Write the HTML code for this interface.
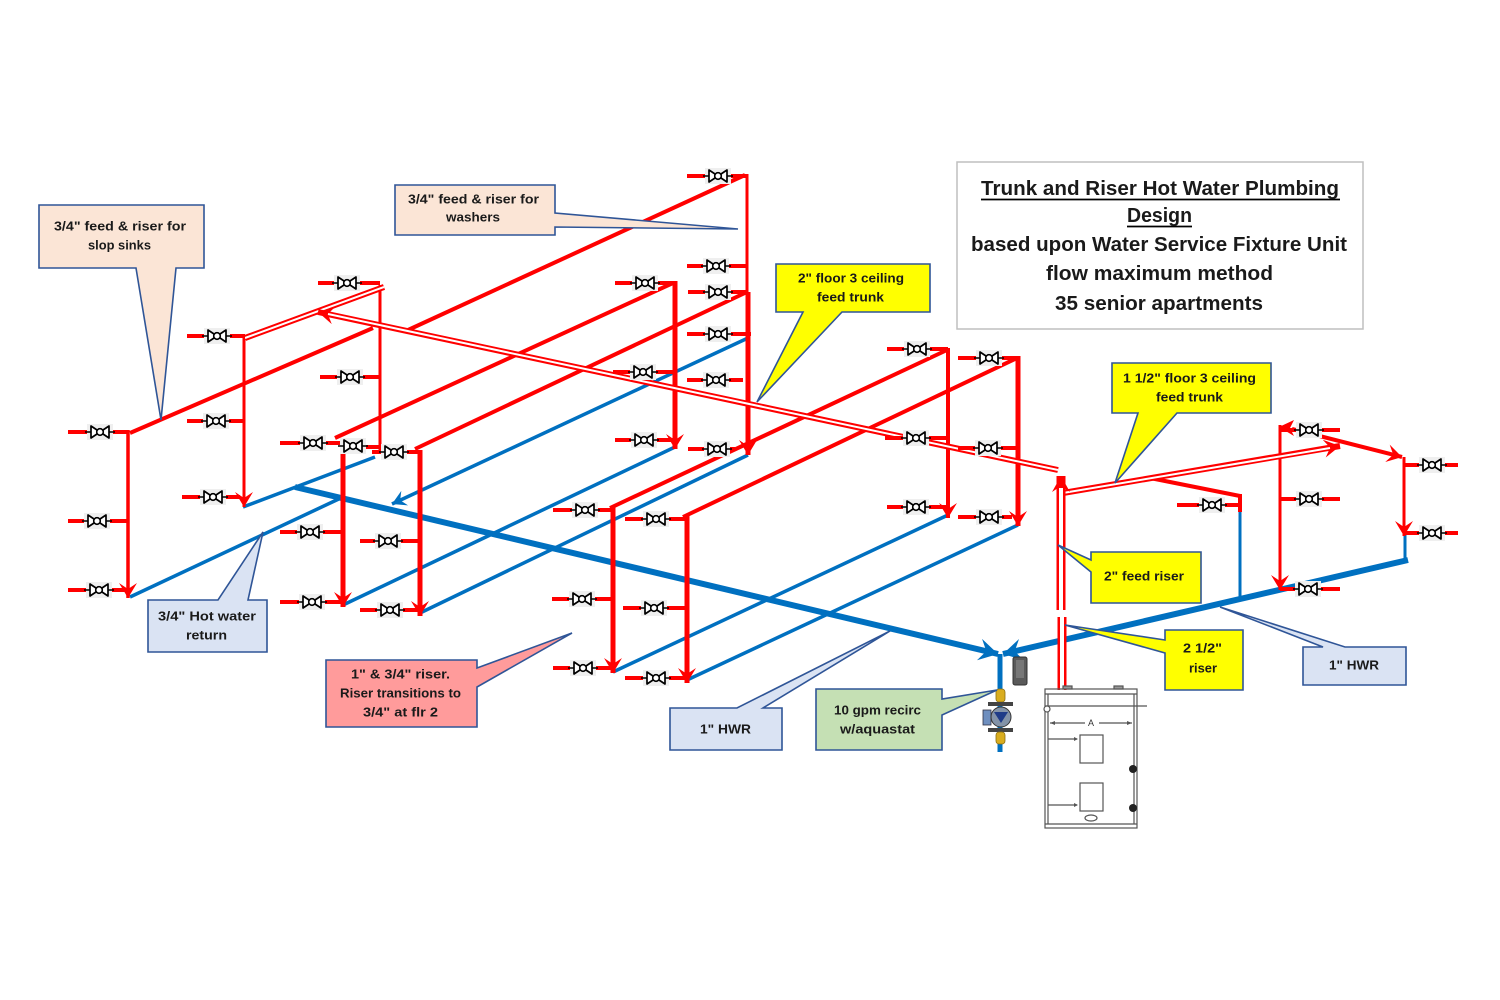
<!DOCTYPE html>
<html><head><meta charset="utf-8"><style>
html,body{margin:0;padding:0;background:#fff;}
svg{display:block}
text{font-family:"Liberation Sans",sans-serif;font-weight:bold;fill:#1a1a1a}
.r{stroke:#ff0000;stroke-width:4;fill:none}
.r3{stroke:#ff0000;stroke-width:3;fill:none}
.r5{stroke:#ff0000;stroke-width:5;fill:none}
.b{stroke:#0070c0;stroke-width:3.5;fill:none}
.bt{stroke:#0070c0;stroke-width:6;fill:none}
.dr{stroke:#ff0000;stroke-width:6;fill:none}
.dw{stroke:#ffffff;stroke-width:2;fill:none}
.co{stroke:#2f5597;stroke-width:1.6;stroke-linejoin:miter}
.hx{stroke:#555;stroke-width:1.2;fill:none}
</style></head><body>
<svg width="1500" height="1000" viewBox="0 0 1500 1000" xmlns="http://www.w3.org/2000/svg">
<defs>
 <marker id="ra" markerUnits="userSpaceOnUse" markerWidth="22" markerHeight="22" viewBox="-18 -11 22 22" refX="0" refY="0" orient="auto"><path d="M0,0 L-15,-9 L-9,0 L-15,9 Z" fill="#ff0000"/></marker>
 <marker id="rd" markerUnits="userSpaceOnUse" markerWidth="22" markerHeight="22" viewBox="-18 -11 22 22" refX="0" refY="0" orient="auto"><path d="M0,0 L-16,-9 L-10,0 L-16,9 Z" fill="#ff0000"/></marker>
 <marker id="ba" markerUnits="userSpaceOnUse" markerWidth="26" markerHeight="26" viewBox="-22 -13 26 26" refX="0" refY="0" orient="auto"><path d="M0,0 L-19,-11 L-12,0 L-19,11 Z" fill="#0070c0"/></marker>
 <marker id="bs" markerUnits="userSpaceOnUse" markerWidth="20" markerHeight="20" viewBox="-17 -10 20 20" refX="0" refY="0" orient="auto"><path d="M0,0 L-14,-8 L-9,0 L-14,8 Z" fill="#0070c0"/></marker>
 <g id="v">
  <rect x="-13" y="-8" width="26" height="16" fill="#efefef"/>
  <line x1="-15" y1="0" x2="15" y2="0" stroke="#000" stroke-width="1.6"/>
  <path d="M-9,-6 L-9,6 L0,0 Z M9,-6 L9,6 L0,0 Z" fill="#fff" stroke="#000" stroke-width="1.7" stroke-linejoin="round"/>
  <circle r="3.3" fill="#fff" stroke="#000" stroke-width="1.6"/>
 </g>
</defs>

<!-- Blue return lines -->
<line class="b" x1="130" y1="597" x2="343" y2="497"/>
<line class="b" x1="243" y1="507" x2="375" y2="457"/>
<line class="b" x1="748" y1="338" x2="392" y2="504" marker-end="url(#bs)"/>
<line class="b" x1="343" y1="605" x2="675" y2="447"/>
<line class="b" x1="420" y1="613" x2="748" y2="455"/>
<line class="b" x1="613" y1="672" x2="948" y2="515"/>
<line class="b" x1="687" y1="680" x2="1018" y2="525"/>
<line class="b" x1="1240" y1="510" x2="1240" y2="598" style="stroke-width:3"/>
<line class="b" x1="1405" y1="533" x2="1405" y2="561" style="stroke-width:3"/>
<line class="bt" x1="295" y1="487" x2="998" y2="654" marker-end="url(#ba)"/>
<line class="bt" x1="1408" y1="560" x2="1003" y2="654" marker-end="url(#ba)"/>
<line class="b" x1="1000" y1="654" x2="1000" y2="752" style="stroke-width:5"/>

<!-- Red feed diagonals -->
<line class="r" x1="130" y1="433" x2="373" y2="328"/>
<line class="r" x1="335" y1="438" x2="673" y2="283"/>
<line class="r" x1="415" y1="449" x2="747" y2="292"/>
<line class="r" x1="408" y1="330" x2="745" y2="175"/>
<line class="r" x1="610" y1="508" x2="947" y2="350"/>
<line class="r" x1="683" y1="517" x2="1017" y2="358"/>
<line class="r" x1="1150" y1="478" x2="1240" y2="496"/>
<line class="r" x1="1292" y1="429" x2="1402" y2="457" marker-end="url(#ra)"/>
<path d="M1279,427 L1294,420 L1290,428 L1294,436 Z" fill="#ff0000"/>

<!-- Risers -->
<line class="r" x1="128" y1="430" x2="128" y2="598" style="stroke-width:3.5" marker-end="url(#ra)"/>
<line class="r3" x1="244" y1="338" x2="244" y2="507" marker-end="url(#ra)"/>
<line class="r3" x1="380" y1="285" x2="380" y2="452"/>
<line class="r5" x1="343" y1="441" x2="343" y2="607" marker-end="url(#ra)"/>
<line class="r5" x1="420" y1="450" x2="420" y2="616" marker-end="url(#ra)"/>
<line class="r5" x1="675" y1="281" x2="675" y2="449" marker-end="url(#ra)"/>
<line class="r3" x1="747" y1="174" x2="747" y2="294"/>
<line class="r5" x1="748" y1="292" x2="748" y2="455" marker-end="url(#ra)"/>
<line class="r5" x1="613" y1="506" x2="613" y2="673" marker-end="url(#ra)"/>
<line class="r5" x1="687" y1="516" x2="687" y2="683" marker-end="url(#ra)"/>
<line class="r" x1="948" y1="348" x2="948" y2="518" marker-end="url(#ra)"/>
<line class="r5" x1="1018" y1="356" x2="1018" y2="526" marker-end="url(#ra)"/>
<line class="r" x1="1240" y1="494" x2="1240" y2="512"/>
<line class="r3" x1="1280" y1="425" x2="1280" y2="590" marker-end="url(#ra)"/>
<line class="r3" x1="1404" y1="457" x2="1404" y2="536" marker-end="url(#ra)"/>

<!-- Double trunk lines -->
<line class="dr" x1="245" y1="338" x2="384" y2="287"/>
<line class="dw" x1="245" y1="338" x2="384" y2="287"/>
<line class="dr" x1="1058" y1="470" x2="318" y2="312" marker-end="url(#rd)"/>
<line class="dw" x1="1058" y1="470" x2="328" y2="314"/>
<line class="dr" x1="1057" y1="494" x2="1340" y2="446" marker-end="url(#rd)"/>
<line class="dw" x1="1057" y1="494" x2="1330" y2="448"/>
<line stroke="#ff0000" stroke-width="9" x1="1061" y1="610" x2="1061" y2="476" marker-end="url(#rd)"/>
<line stroke="#fff" stroke-width="4" x1="1061" y1="610" x2="1061" y2="488"/>
<line stroke="#ff0000" stroke-width="9" x1="1062" y1="617" x2="1062" y2="690"/>
<line stroke="#fff" stroke-width="4" x1="1062" y1="617" x2="1062" y2="690"/>

<!-- Valves -->
<g class="r">
<line x1="68" y1="432" x2="128" y2="432"/><line x1="68" y1="521" x2="128" y2="521"/><line x1="68" y1="590" x2="128" y2="590"/>
<line x1="187" y1="336" x2="245" y2="336"/><line x1="187" y1="421" x2="243" y2="421"/><line x1="182" y1="497" x2="240" y2="497"/>
<line x1="318" y1="283" x2="380" y2="283"/><line x1="320" y1="377" x2="380" y2="377"/>
<line x1="280" y1="443" x2="345" y2="443"/><line x1="340" y1="447" x2="385" y2="447"/><line x1="372" y1="452" x2="420" y2="452"/>
<line x1="280" y1="532" x2="343" y2="532"/><line x1="280" y1="602" x2="343" y2="602"/>
<line x1="360" y1="541" x2="420" y2="541"/><line x1="360" y1="610" x2="420" y2="610"/>
<line x1="615" y1="283" x2="675" y2="283"/><line x1="613" y1="372" x2="675" y2="372"/><line x1="615" y1="440" x2="675" y2="440"/>
<line x1="687" y1="176" x2="748" y2="176"/><line x1="687" y1="266" x2="748" y2="266"/><line x1="688" y1="292" x2="748" y2="292"/>
<line x1="687" y1="334" x2="751" y2="334"/><line x1="687" y1="380" x2="743" y2="380"/><line x1="688" y1="449" x2="735" y2="449"/>
<line x1="553" y1="510" x2="613" y2="510"/><line x1="552" y1="599" x2="613" y2="599"/><line x1="553" y1="668" x2="613" y2="668"/>
<line x1="625" y1="519" x2="687" y2="519"/><line x1="623" y1="608" x2="687" y2="608"/><line x1="625" y1="678" x2="687" y2="678"/>
<line x1="887" y1="349" x2="948" y2="349"/><line x1="885" y1="438" x2="948" y2="438"/><line x1="887" y1="507" x2="948" y2="507"/>
<line x1="958" y1="358" x2="1018" y2="358"/><line x1="958" y1="448" x2="1018" y2="448"/><line x1="958" y1="517" x2="1012" y2="517"/>
<line x1="1177" y1="505" x2="1240" y2="505"/>
<line x1="1280" y1="430" x2="1340" y2="430"/><line x1="1280" y1="499" x2="1340" y2="499"/><line x1="1280" y1="589" x2="1340" y2="589"/>
<line x1="1404" y1="465" x2="1458" y2="465"/><line x1="1404" y1="533" x2="1458" y2="533"/>
</g>
<use href="#v" x="100" y="432"/><use href="#v" x="97" y="521"/><use href="#v" x="99" y="590"/>
<use href="#v" x="217" y="336"/><use href="#v" x="216" y="421"/><use href="#v" x="213" y="497"/>
<use href="#v" x="347" y="283"/><use href="#v" x="350" y="377"/>
<use href="#v" x="313" y="443"/><use href="#v" x="353" y="446"/><use href="#v" x="394" y="452"/>
<use href="#v" x="310" y="532"/><use href="#v" x="312" y="602"/>
<use href="#v" x="388" y="541"/><use href="#v" x="390" y="610"/>
<use href="#v" x="645" y="283"/><use href="#v" x="643" y="372"/><use href="#v" x="644" y="440"/>
<use href="#v" x="718" y="176"/><use href="#v" x="716" y="266"/><use href="#v" x="718" y="292"/>
<use href="#v" x="718" y="334"/><use href="#v" x="716" y="380"/><use href="#v" x="717" y="449"/>
<use href="#v" x="585" y="510"/><use href="#v" x="582" y="599"/><use href="#v" x="583" y="668"/>
<use href="#v" x="656" y="519"/><use href="#v" x="654" y="608"/><use href="#v" x="656" y="678"/>
<use href="#v" x="917" y="349"/><use href="#v" x="916" y="438"/><use href="#v" x="916" y="507"/>
<use href="#v" x="989" y="358"/><use href="#v" x="988" y="448"/><use href="#v" x="989" y="517"/>
<use href="#v" x="1212" y="505"/>
<use href="#v" x="1309" y="430"/><use href="#v" x="1309" y="499"/><use href="#v" x="1308" y="589"/>
<use href="#v" x="1432" y="465"/><use href="#v" x="1432" y="533"/>

<!-- Heater -->
<rect x="1045" y="689" width="92" height="139" fill="#fff" class="hx"/>
<g class="hx">
<rect x="1063" y="686" width="9" height="3" fill="#999"/>
<rect x="1114" y="686" width="9" height="3" fill="#999"/>
<line x1="1045" y1="694" x2="1137" y2="694"/>
<line x1="1045" y1="706" x2="1147" y2="706"/>
<line x1="1048" y1="694" x2="1048" y2="824"/>
<line x1="1134" y1="694" x2="1134" y2="824"/>
<line x1="1045" y1="824" x2="1137" y2="824"/>
<circle cx="1047" cy="709" r="3" fill="#fff"/>
<line x1="1050" y1="723" x2="1085" y2="723"/>
<line x1="1099" y1="723" x2="1132" y2="723"/>
<rect x="1080" y="735" width="23" height="28"/>
<rect x="1080" y="783" width="23" height="28"/>
<line x1="1048" y1="739" x2="1077" y2="739"/>
<line x1="1048" y1="805" x2="1077" y2="805"/>
<ellipse cx="1091" cy="818" rx="6" ry="3"/>
</g>
<path d="M1050,723 l5,-2 v4 Z M1132,723 l-5,-2 v4 Z M1078,739 l-4,-2 v4 Z M1078,805 l-4,-2 v4 Z" fill="#555"/>
<text x="1088" y="726" style="font-size:9px;font-weight:normal;fill:#333">A</text>
<circle cx="1133" cy="769" r="4" fill="#222"/>
<circle cx="1133" cy="808" r="4" fill="#222"/>

<!-- Aquastat -->
<rect x="1013" y="657" width="14" height="28" rx="2" fill="#5a5a5a" stroke="#333" stroke-width="1"/>
<rect x="1016" y="660" width="8" height="18" fill="#777"/>

<!-- Pump -->
<rect x="996" y="689" width="9" height="13" rx="3" fill="#d9ad1f" stroke="#8a6d10" stroke-width="0.8"/>
<rect x="988" y="702" width="25" height="4" fill="#444"/>
<rect x="983" y="710" width="8" height="15" fill="#6f8fbf" stroke="#334" stroke-width="0.8"/>
<circle cx="1001" cy="717" r="10" fill="#8393a8" stroke="#333" stroke-width="1"/>
<path d="M994,712 L1008,712 L1001,723 Z" fill="#1f3c88"/>
<rect x="988" y="728" width="25" height="4" fill="#444"/>
<rect x="996" y="732" width="9" height="12" rx="3" fill="#d9ad1f" stroke="#8a6d10" stroke-width="0.8"/>

<!-- Callouts -->
<path class="co" fill="#fbe5d6" d="M39,205 H204 V268 H176 L161,420 L136,268 H39 Z"/>
<path class="co" fill="#fbe5d6" d="M395,185 H555 V213 L738,229 L555,227 V235 H395 Z"/>
<path class="co" fill="#ffff00" d="M776,264 H930 V312 H842 L757,402 L803,312 H776 Z"/>
<path class="co" fill="#ffff00" d="M1112,363 H1271 V413 H1177 L1115,483 L1138,413 H1112 Z"/>
<path class="co" fill="#ffff00" d="M1091,552 H1201 V603 H1091 V572 L1058,545 L1091,560 Z"/>
<path class="co" fill="#ffff00" d="M1165,630 H1243 V690 H1165 V653 L1065,625 L1165,640 Z"/>
<path class="co" fill="#dae3f3" d="M1303,647 H1323 L1220,607 L1345,647 H1406 V685 H1303 Z"/>
<path class="co" fill="#dae3f3" d="M148,600 H218 L263,532 L248,600 H267 V652 H148 Z"/>
<path class="co" fill="#ff9b9b" d="M326,660 H477 V668 L572,633 L477,687 V727 H326 Z"/>
<path class="co" fill="#dae3f3" d="M670,708 H737 L890,631 L763,708 H782 V750 H670 Z"/>
<path class="co" fill="#c5e0b4" d="M816,689 H942 V699 L997,690 L942,715 V750 H816 Z"/>

<g style="font-size:12.5px">
<text x="54" y="230.5" textLength="132" lengthAdjust="spacingAndGlyphs">3/4" feed &amp; riser for</text>
<text x="88" y="249.5" textLength="63" lengthAdjust="spacingAndGlyphs">slop sinks</text>
<text x="408" y="203.5" textLength="131" lengthAdjust="spacingAndGlyphs">3/4" feed &amp; riser for</text>
<text x="446" y="221.5" textLength="54" lengthAdjust="spacingAndGlyphs">washers</text>
<text x="798" y="282.5" textLength="106" lengthAdjust="spacingAndGlyphs">2" floor 3 ceiling</text>
<text x="817" y="301.5" textLength="67" lengthAdjust="spacingAndGlyphs">feed trunk</text>
<text x="1123" y="382.5" textLength="133" lengthAdjust="spacingAndGlyphs">1 1/2" floor 3 ceiling</text>
<text x="1156" y="401.5" textLength="67" lengthAdjust="spacingAndGlyphs">feed trunk</text>
<text x="1104" y="580.5" textLength="80" lengthAdjust="spacingAndGlyphs">2" feed riser</text>
<text x="1183" y="652.5" textLength="39" lengthAdjust="spacingAndGlyphs">2 1/2"</text>
<text x="1189" y="672.5" textLength="28" lengthAdjust="spacingAndGlyphs">riser</text>
<text x="1329" y="669.5" textLength="50" lengthAdjust="spacingAndGlyphs">1" HWR</text>
<text x="158" y="620.5" textLength="98" lengthAdjust="spacingAndGlyphs">3/4" Hot water</text>
<text x="186" y="639.5" textLength="41" lengthAdjust="spacingAndGlyphs">return</text>
<text x="351" y="678.5" textLength="99" lengthAdjust="spacingAndGlyphs">1" &amp; 3/4" riser.</text>
<text x="340" y="697.5" textLength="121" lengthAdjust="spacingAndGlyphs">Riser transitions to</text>
<text x="363" y="716.5" textLength="75" lengthAdjust="spacingAndGlyphs">3/4" at flr 2</text>
<text x="700" y="733.5" textLength="51" lengthAdjust="spacingAndGlyphs">1" HWR</text>
<text x="834" y="714.5" textLength="87" lengthAdjust="spacingAndGlyphs">10 gpm recirc</text>
<text x="840" y="733.5" textLength="75" lengthAdjust="spacingAndGlyphs">w/aquastat</text>
</g>

<!-- Title box -->
<rect x="957" y="162" width="406" height="167" fill="#fff" stroke="#bfbfbf" stroke-width="1.5"/>
<g style="font-size:20px">
<text x="981" y="195" textLength="358" lengthAdjust="spacingAndGlyphs">Trunk and Riser Hot Water Plumbing</text>
<text x="1127" y="222" textLength="65" lengthAdjust="spacingAndGlyphs">Design</text>
<text x="971" y="251" textLength="376" lengthAdjust="spacingAndGlyphs">based upon Water Service Fixture Unit</text>
<text x="1046" y="280" textLength="227" lengthAdjust="spacingAndGlyphs">flow maximum method</text>
<text x="1055" y="310" textLength="208" lengthAdjust="spacingAndGlyphs">35 senior apartments</text>
</g>
<line x1="981" y1="199.5" x2="1340" y2="199.5" stroke="#000" stroke-width="1.8"/>
<line x1="1127" y1="226.5" x2="1192" y2="226.5" stroke="#000" stroke-width="1.8"/>
</svg>
</body></html>
